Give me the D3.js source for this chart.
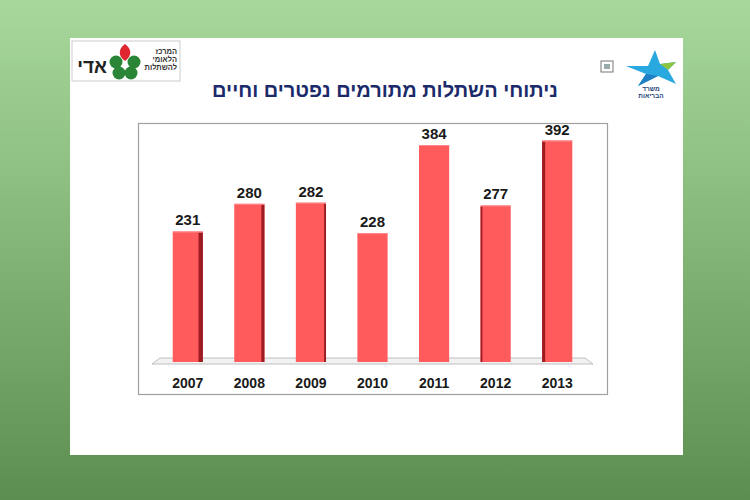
<!DOCTYPE html>
<html><head><meta charset="utf-8">
<script src="https://cdn.jsdelivr.net/npm/d3@7"></script>
<style>body{margin:0;overflow:hidden}svg{display:block}</style>
</head><body>
<script>
const years = ["2007","2008","2009","2010","2011","2012","2013"];
const values = [231,280,282,228,384,277,392];
const titleText = "ניתוחי השתלות מתורמים נפטרים וחיים";
const logoLeftWord = "אדי";
const logoLeftSmall = ["המרכז","הלאומי","להשתלות"];
const logoRightText = ["משרד","הבריאות"];

const W=750,H=500;
const svg=d3.select("body").append("svg").attr("width",W).attr("height",H);
const defs=svg.append("defs");
const bg=defs.append("linearGradient").attr("id","bg").attr("x1",0).attr("y1",0).attr("x2",0).attr("y2",1);
bg.append("stop").attr("offset","0").attr("stop-color","#a8d89c");
bg.append("stop").attr("offset","0.45").attr("stop-color","#86b979");
bg.append("stop").attr("offset","1").attr("stop-color","#5c8e50");
svg.append("rect").attr("width",W).attr("height",H).attr("fill","url(#bg)");

// slide
svg.append("rect").attr("x",70).attr("y",38).attr("width",613).attr("height",417).attr("fill","#fff");

// left logo
const ll=svg.append("g");
ll.append("rect").attr("x",72).attr("y",41).attr("width",108).attr("height",40).attr("fill","#fff").attr("stroke","#ccc");
ll.append("text").attr("x",107).attr("y",73).attr("text-anchor","end").attr("font-family","Liberation Sans, Arial").attr("font-weight","bold").attr("font-size",19).attr("fill","#222").text(logoLeftWord);
[[116,62],[134,62],[119,73],[131,73]].forEach(p=>ll.append("circle").attr("cx",p[0]).attr("cy",p[1]).attr("r",6.5).attr("fill","#2a8636"));
ll.append("path").attr("d","M125,44 C132,49 132,56 125,61 C118,56 118,49 125,44Z").attr("fill","#e0262e");
logoLeftSmall.forEach((t,i)=>ll.append("text").attr("x",177).attr("y",54+i*8).attr("text-anchor","end").attr("font-family","Liberation Sans, Arial").attr("font-weight","bold").attr("font-size",7.5).attr("fill","#333").text(t));

// right logo
const rl=svg.append("g");
rl.append("rect").attr("x",601).attr("y",61).attr("width",12).attr("height",11).attr("fill","#fff").attr("stroke","#777");
rl.append("rect").attr("x",604).attr("y",64).attr("width",6).attr("height",5).attr("fill","#9aa");
rl.append("path").attr("d","M655,50 L648,66 L626,66 L646,74 L638,86 L658,76 L676,84 L668,70 L676,62 L660,64Z").attr("fill","#2aa9e0");
rl.append("path").attr("d","M646,74 L638,86 L658,76Z").attr("fill","#1f7fc2");
rl.append("path").attr("d","M660,64 L676,62 L668,70Z").attr("fill","#8cc63f");
logoRightText.forEach((t,i)=>rl.append("text").attr("x",651).attr("y",91+i*7).attr("text-anchor","middle").attr("font-family","Liberation Sans, Arial").attr("font-weight","bold").attr("font-size",6.5).attr("fill","#1c3f7a").text(t));

// title
svg.append("text").attr("x",385).attr("y",97).attr("text-anchor","middle").attr("direction","rtl")
  .attr("font-family","Liberation Sans, Arial").attr("font-weight","bold").attr("font-size",20).attr("fill","#1b2a6b").text(titleText);

// chart box
svg.append("rect").attr("x",138.5).attr("y",123.5).attr("width",469).attr("height",271).attr("fill","#fff").attr("stroke","#a0a0a0").attr("stroke-width",1.2);

const x=d3.scaleBand().domain(years).range([157,588]).paddingInner(0.51).paddingOuter(0.255);
const y=d3.scaleLinear().domain([0,400]).range([362,136]);

// floor
const x0=x.range()[0], x1=x.range()[1], by=y(0);
svg.append("path").attr("d",`M${x0+3},${by-4} L${x1-3},${by-4} L${x1+5},${by+2} L${x0-5},${by+2}Z`).attr("fill","#f2f2f2").attr("stroke","#b0b0b0").attr("stroke-width",0.8);

const bars=svg.append("g");
const bw=x.bandwidth(), cx=d=>x(d)+bw/2;
const sideW=d=>Math.max(0,(Math.abs(cx(d)-405)/50));
years.forEach((yr,i)=>{
  const v=values[i], left=x(yr), top=y(v);
  bars.append("rect").attr("x",left).attr("y",top).attr("width",bw).attr("height",by-top).attr("fill","#ff5a5c");
  const sw=sideW(yr);
  if(sw>0.8){
    const onRight=cx(yr)<405;
    const sx=onRight?left+bw-sw:left;
    bars.append("rect").attr("x",sx).attr("y",top+1).attr("width",sw).attr("height",by-top-1).attr("fill","#9c1c22");
  }
  bars.append("rect").attr("x",left).attr("y",top).attr("width",bw).attr("height",1).attr("fill","#ff8a8a");
  svg.append("text").attr("x",cx(yr)).attr("y",top-6).attr("text-anchor","middle").attr("font-family","Liberation Sans, Arial").attr("font-weight","bold").attr("font-size",15).attr("fill","#1a1a1a").text(v);
});

const ax=svg.append("g").attr("transform",`translate(0,${by})`).call(d3.axisBottom(x).tickSize(0).tickPadding(16));
ax.select(".domain").remove();
ax.selectAll("text").attr("font-family","Liberation Sans, Arial").attr("font-weight","bold").attr("font-size",14).attr("fill","#1a1a1a");
</script>
</body></html>
